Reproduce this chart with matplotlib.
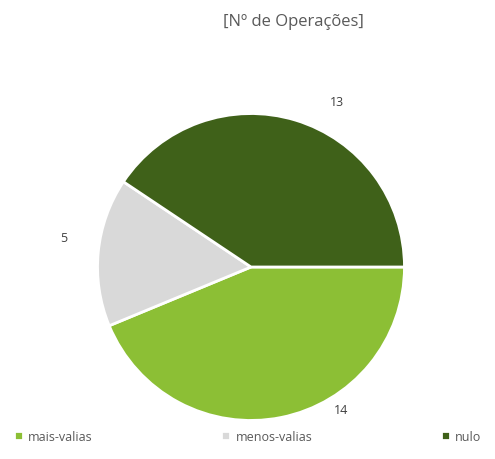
import matplotlib
matplotlib.use('Agg')
import matplotlib.pyplot as plt

plt.rcParams['font.family'] = ['Open Sans', 'DejaVu Sans']

categories = ['mais-valias', 'menos-valias', 'nulo']
values = [14, 5, 13]
colors = ['#8cbf35', '#d9d9d9', '#3f6119']
# label spots (data units, radius = 1)
label_pos = [(0.59, -0.93), (-1.22, 0.19), (0.56, 1.08)]

fig = plt.figure(figsize=(4.95, 4.6), dpi=100)
ax = fig.add_axes([96 / 495, 37 / 460, 310 / 495, 310 / 460])

wedges, texts = ax.pie(values, labels=[str(v) for v in values], colors=colors,
                       startangle=0, counterclock=False,
                       wedgeprops={'edgecolor': 'white', 'linewidth': 2})
for t, pos in zip(texts, label_pos):
    t.set_position(pos)
    t.set_ha('center')
    t.set_va('center')
    t.set_fontsize(9)
    t.set_color('#404040')
    t.set_clip_on(False)
ax.set_xlim(-1.01, 1.01)
ax.set_ylim(-1.01, 1.01)
ax.set_aspect('equal')

fig.text(0.592, 0.952, '[Nº de Operações]', ha='center', va='center',
         fontsize=12, color='#595959')

fig.legend(wedges, categories, loc='lower left', ncol=3, mode='expand',
           bbox_to_anchor=(0.005, 0.01, 0.99, 0.08), frameon=False,
           fontsize=9, handlelength=0.75, handleheight=0.75, handletextpad=0.4,
           labelcolor='#595959')

fig.savefig('out.png', dpi=100)
